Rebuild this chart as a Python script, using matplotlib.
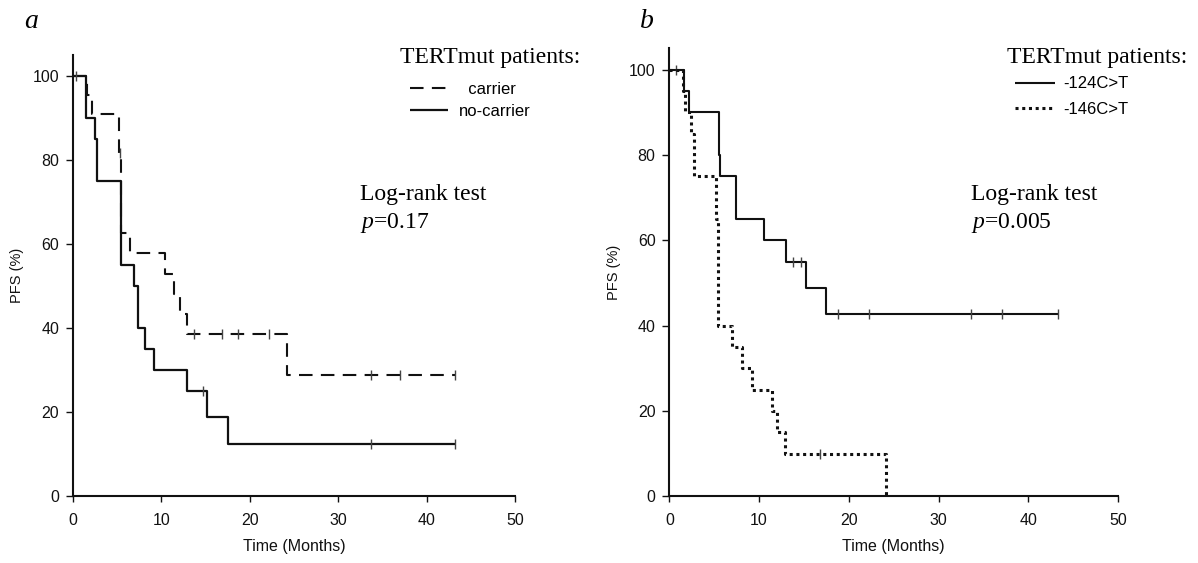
import matplotlib
matplotlib.use("Agg")
import matplotlib.pyplot as plt
import numpy as np

W, H = 1198, 563

# progression-free survival steps, panel a
a_carrier_t = [0, 1.55, 2.2, 5.2, 5.45, 6.45, 10.45, 11.4, 12.1, 12.9, 24.2, 43.2]
a_carrier_s = [100, 95.5, 90.9, 81.8, 62.6, 57.8, 53.0, 48.2, 43.4, 38.5, 28.9, 28.9]
a_carrier_cens = [5.3, 13.7, 16.9, 18.7, 22.2, 33.7, 37.0, 43.2]

a_noncarrier_t = [0, 1.5, 2.5, 2.75, 5.45, 6.95, 7.3, 8.2, 9.2, 12.9, 15.2, 17.5, 43.2]
a_noncarrier_s = [100, 90, 85, 75, 55, 50, 40, 35, 30, 25, 18.75, 12.5, 12.5]
a_noncarrier_cens = [0.3, 14.7, 33.7, 43.2]

# panel b: -124C>T vs -146C>T
b_124_t = [0, 1.65, 2.2, 5.55, 5.65, 7.4, 10.55, 12.95, 15.2, 17.5, 43.3]
b_124_s = [100, 95, 90, 80, 75, 65, 60, 55, 48.9, 42.8, 42.8]
b_124_cens = [0.7, 13.8, 14.7, 18.8, 22.3, 33.6, 37.1, 43.3]

b_146_t = [0, 1.5, 1.7, 2.45, 2.75, 5.15, 5.45, 6.94, 8.13, 9.2, 11.4, 12.05, 12.9, 24.15]
b_146_s = [100, 95, 90, 85, 75, 65, 40, 35, 30, 25, 20, 15, 10, 0]
b_146_cens = [16.8]

xticks = [0, 10, 20, 30, 40, 50]
yticks = [0, 20, 40, 60, 80, 100]

plt.rcParams['font.family'] = ['Liberation Sans', 'DejaVu Sans']
plt.rcParams['mathtext.fontset'] = 'custom'
plt.rcParams['mathtext.it'] = 'Liberation Serif:italic'
plt.rcParams['mathtext.rm'] = 'Liberation Serif'

INK = '#111111'


def px(x, y):
    return x / W, 1 - y / H


def km(ax, t, s, cens, ls, lw, label):
    line, = ax.step(t, s, where='post', color=INK, lw=lw, ls=ls, label=label,
                    solid_capstyle='butt', dash_capstyle='butt')
    t = np.array(t)
    cy = [s[np.searchsorted(t, c, side='right') - 1] for c in cens]
    ax.plot(cens, cy, ls='none', marker='|', ms=7, mew=1.0, color='#444444')
    return line


def style(ax):
    ax.set_xlim(0, 50)
    ax.set_ylim(0, 105)
    ax.set_xticks(xticks)
    ax.set_yticks(yticks)
    for sp in ['top', 'right']:
        ax.spines[sp].set_visible(False)
    for sp in ['left', 'bottom']:
        ax.spines[sp].set_linewidth(1.5)
        ax.spines[sp].set_color(INK)
    ax.tick_params(axis='y', length=5, width=1, pad=5, labelsize=11.5, colors=INK)
    ax.tick_params(axis='x', length=4, width=1, pad=8, labelsize=11.5, colors=INK)
    ax.set_xlabel('Time (Months)', fontsize=11.5, labelpad=8, color=INK)
    ax.set_ylabel('PFS (%)', fontsize=10.5, labelpad=6, color=INK)


fig = plt.figure(figsize=(W / 100, H / 100), dpi=100)
ax_a = fig.add_axes([72.9 / W, 66.7 / H, 442.5 / W, 441.3 / H])
ax_b = fig.add_axes([669.4 / W, 66.7 / H, 448.5 / W, 448.0 / H])

# panel a
h1 = km(ax_a, a_carrier_t, a_carrier_s, a_carrier_cens, (0, (6.5, 4)), 1.5, '  carrier')
h2 = km(ax_a, a_noncarrier_t, a_noncarrier_s, a_noncarrier_cens, '-', 1.6, 'no-carrier')
style(ax_a)
ax_a.legend(handles=[h1, h2], loc='upper left', bbox_to_anchor=px(410, 81.5),
            bbox_transform=fig.transFigure, frameon=False, borderpad=0,
            borderaxespad=0, handlelength=2.3, handletextpad=0.66,
            labelspacing=0.45, fontsize=12)

# panel b
h3 = km(ax_b, b_124_t, b_124_s, b_124_cens, '-', 1.5, '-124C>T')
h4 = km(ax_b, b_146_t, b_146_s, b_146_cens, (0, (1, 1.2)), 2.2, '-146C>T')
style(ax_b)
ax_b.legend(handles=[h3, h4], loc='upper left', bbox_to_anchor=px(1015, 76.5),
            bbox_transform=fig.transFigure, frameon=False, borderpad=0,
            borderaxespad=0, handlelength=2.4, handletextpad=0.52,
            labelspacing=0.62, fontsize=12)

serif = ['Liberation Serif', 'DejaVu Serif']
fig.text(*px(24, 28), 'a', family=serif, style='italic', fontsize=20, va='baseline')
fig.text(*px(640, 28), 'b', family=serif, style='italic', fontsize=20, va='baseline')

fig.text(*px(400, 63), 'TERTmut patients:', family=serif, fontsize=17, va='baseline')
fig.text(*px(1007, 63), 'TERTmut patients:', family=serif, fontsize=17, va='baseline')

fig.text(*px(360, 200), 'Log-rank test', family=serif, fontsize=17, va='baseline')
fig.text(*px(360, 228), r'$p$=0.17', family=serif, fontsize=17, va='baseline')
fig.text(*px(971, 200), 'Log-rank test', family=serif, fontsize=17, va='baseline')
fig.text(*px(971, 228), r'$p$=0.005', family=serif, fontsize=17, va='baseline')

fig.savefig('out.png', dpi=100, facecolor='white')
